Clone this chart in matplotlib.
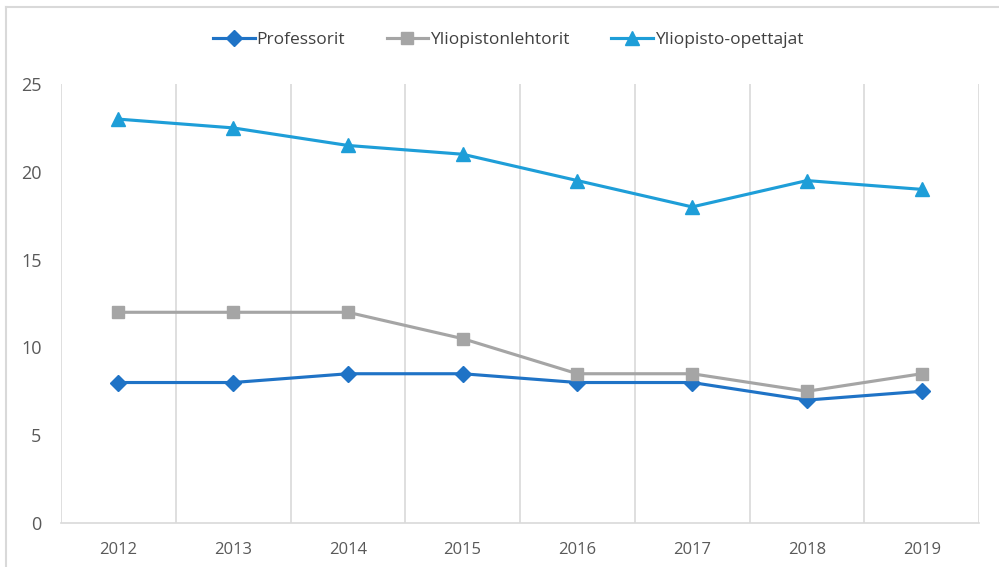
import matplotlib
matplotlib.use("Agg")
import matplotlib.pyplot as plt
from matplotlib.lines import Line2D
import numpy as np

years = ["2012", "2013", "2014", "2015", "2016", "2017", "2018", "2019"]
professorit = [8, 8, 8.5, 8.5, 8, 8, 7, 7.5]
lehtorit = [12, 12, 12, 10.5, 8.5, 8.5, 7.5, 8.5]
opettajat = [23, 22.5, 21.5, 21, 19.5, 18, 19.5, 19]

plt.rcParams["font.family"] = ["Open Sans", "DejaVu Sans"]

W, H = 999, 567
fig = plt.figure(figsize=(W / 100, H / 100), dpi=100)
# axes box in pixels: left 61, right 979, top 84, bottom 523
ax = fig.add_axes([61 / W, 1 - 523 / H, (979 - 61) / W, (523 - 84) / H])

x = np.arange(len(years))
ax.plot(x, professorit, color="#1F73C6", lw=2.25, marker="D", ms=8, label="Professorit")
ax.plot(x, lehtorit, color="#A5A5A5", lw=2.25, marker="s", ms=9, label="Yliopistonlehtorit")
ax.plot(x, opettajat, color="#1E9ED8", lw=2.25, marker="^", ms=10, label="Yliopisto-opettajat")

ax.set_xlim(-0.5, len(years) - 0.5)
ax.set_ylim(0, 25)
ax.set_xticks(x)
ax.set_xticklabels(years)
ax.set_xticks(np.arange(-0.5, len(years)), minor=True)
ax.set_yticks([0, 5, 10, 15, 20, 25])
ax.grid(True, which="minor", axis="x", color="#D9D9D9", lw=1.2)
ax.tick_params(axis="both", which="both", length=0)
ax.tick_params(axis="x", colors="#595959", labelsize=12, pad=14)
ax.tick_params(axis="y", colors="#595959", labelsize=13, pad=14)

for s in ["top", "right", "left"]:
    ax.spines[s].set_visible(False)
ax.spines["bottom"].set_color("#D9D9D9")
ax.spines["bottom"].set_linewidth(1.2)

leg = fig.legend(loc="center", bbox_to_anchor=(508 / W, 1 - 40 / H), ncol=3,
                 frameon=False, fontsize=12.5, handlelength=2.4, columnspacing=2.4,
                 handletextpad=0.1)
for t in leg.get_texts():
    t.set_color("#404040")

# outer chart frame
fig.add_artist(Line2D([6 / W, 1], [1 - 7 / H, 1 - 7 / H], color="#D9D9D9", lw=1.5))
fig.add_artist(Line2D([6 / W, 6 / W], [0, 1 - 7 / H], color="#D9D9D9", lw=1.5))

fig.savefig("out.png", dpi=100)
